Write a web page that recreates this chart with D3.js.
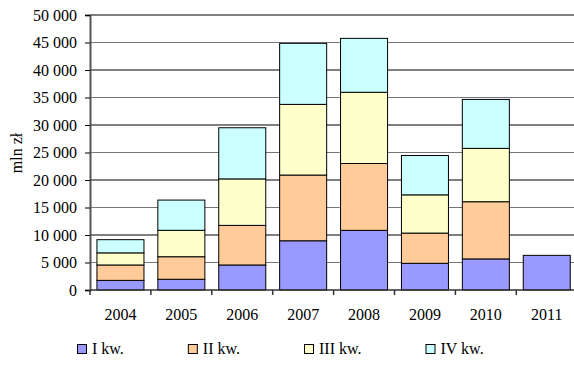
<!DOCTYPE html>
<html>
<head>
<meta charset="utf-8">
<script src="https://cdn.jsdelivr.net/npm/d3@7"></script>
<style>
  html, body { margin: 0; padding: 0; background: #fff; }
  svg { display: block; }
  svg text { font-family: "Liberation Serif", "Tinos", "DejaVu Serif", serif !important; fill: #000; }
</style>
</head>
<body>
<svg id="chart" width="574" height="369"></svg>
<script>
// Quarterly values, mln zł
const years = ["2004", "2005", "2006", "2007", "2008", "2009", "2010", "2011"];
const q1 = [1750, 1950, 4550, 8950, 10850, 4850, 5650, 6300];
const q2 = [2800, 4100, 7200, 11950, 12150, 5500, 10400, 0];
const q3 = [2200, 4800, 8450, 12850, 12950, 6950, 9700, 0];
const q4 = [2400, 5500, 9300, 11100, 9800, 7150, 8900, 0];
const seriesNames = ["I kw.", "II kw.", "III kw.", "IV kw."];
const seriesColors = ["#9999ff", "#ffcc99", "#ffffcc", "#ccffff"];
const yTicks = [0, 5000, 10000, 15000, 20000, 25000, 30000, 35000, 40000, 45000, 50000];
const yTitle = "mln zł";

const svg = d3.select("#chart");
const W = 574;
const FONT = "'Liberation Serif', 'DejaVu Serif', serif";

const plotLeft = 90, plotRight = 90 + 8 * 60.9, plotTop = 15, plotBottom = 290;

const x = d3.scaleBand().domain(years).range([plotLeft, plotRight])
  .paddingInner(0.228).paddingOuter(0.114);
const y = d3.scaleLinear().domain([0, 50000]).range([plotBottom, plotTop]);

const fmt = v => d3.format(",")(v).replace(/,/g, " ");

// horizontal gridlines
svg.append("g").selectAll("line").data(yTicks.filter(v => v > 0)).join("line")
  .attr("x1", plotLeft).attr("x2", W + 5)
  .attr("y1", d => y(d)).attr("y2", d => y(d))
  .attr("stroke", (d, i) => i % 2 ? "#000" : "#777").attr("stroke-width", 1);

// stacked bars
const table = years.map((yr, i) => ({ year: yr, s0: q1[i], s1: q2[i], s2: q3[i], s3: q4[i] }));
const stack = d3.stack().keys(["s0", "s1", "s2", "s3"]);
const layers = stack(table);

svg.append("g").selectAll("g").data(layers).join("g")
  .attr("fill", (d, i) => seriesColors[i])
  .selectAll("rect").data(d => d.filter(p => p[1] - p[0] > 0)).join("rect")
  .attr("x", d => x(d.data.year))
  .attr("width", x.bandwidth())
  .attr("y", d => y(d[1]))
  .attr("height", d => y(d[0]) - y(d[1]))
  .attr("stroke", "#000").attr("stroke-width", 1);

// y axis
const yAxis = d3.axisLeft(y).tickValues(yTicks).tickSize(5).tickPadding(8).tickFormat(fmt);
const gy = svg.append("g").attr("transform", `translate(${plotLeft},0)`).call(yAxis)
  .attr("font-family", FONT).attr("font-size", 16);
gy.select(".domain").attr("stroke", "#555").attr("stroke-width", 2);
gy.selectAll(".tick line").attr("stroke", "#000");
gy.selectAll(".tick text").attr("dy", "0.33em").attr("fill", "#000");

// x axis with ticks at category boundaries
const gx = svg.append("g").attr("font-family", FONT);
gx.append("line").attr("x1", plotLeft).attr("x2", W + 5)
  .attr("y1", plotBottom).attr("y2", plotBottom).attr("stroke", "#333").attr("stroke-width", 1.5);
const bounds = years.map((yr, i) => plotLeft + x.step() * i).concat([plotRight]);
gx.selectAll("line.tk").data(bounds).join("line").attr("class", "tk")
  .attr("x1", d => d).attr("x2", d => d)
  .attr("y1", plotBottom).attr("y2", plotBottom + 5)
  .attr("stroke", "#333").attr("stroke-width", 1.5);
gx.selectAll("text").data(years).join("text")
  .attr("x", d => x(d) + x.bandwidth() / 2).attr("y", 320)
  .attr("text-anchor", "middle").attr("font-size", 16).text(d => d);

// y title
svg.append("text").attr("transform", "translate(22,153) rotate(-90)")
  .attr("font-family", FONT)
  .attr("text-anchor", "middle").attr("font-size", 16).text(yTitle);

// legend
const legend = svg.append("g").attr("font-family", FONT);
let lx = 77;
seriesNames.forEach((name, i) => {
  const g = legend.append("g").attr("transform", `translate(${lx},344)`);
  g.append("rect").attr("x", 0.5).attr("y", 0.5).attr("width", 9).attr("height", 9)
    .attr("fill", seriesColors[i]).attr("stroke", "#000").attr("stroke-width", 1);
  const t = g.append("text").attr("x", 15).attr("y", 10).attr("font-size", 16).text(name);
  lx += 15 + t.node().getComputedTextLength() + 64;
});
</script>
</body>
</html>
